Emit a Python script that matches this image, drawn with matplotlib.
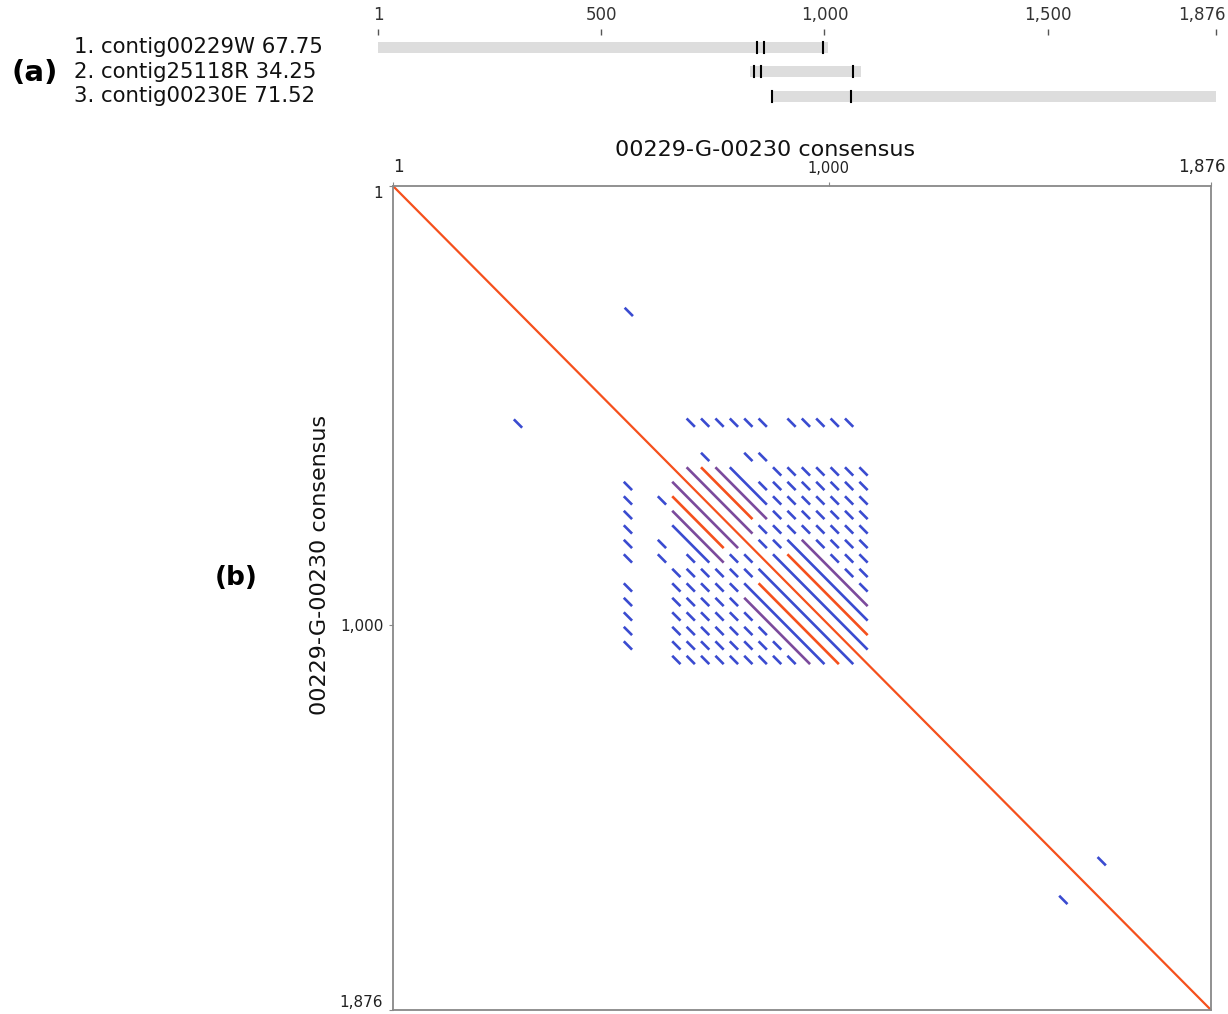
import matplotlib.pyplot as plt
from matplotlib.transforms import ScaledTranslation

# ---- panel (a): contig layout ----
contig_labels = ["1. contig00229W 67.75", "2. contig25118R 34.25", "3. contig00230E 71.52"]
contig_start = [1, 833, 880]
contig_end = [1008, 1081, 1876]
contig_marks = [[849, 864, 996], [842, 858, 1064], [882, 1059]]
top_ticks = [1, 500, 1000, 1500, 1876]
top_tick_labels = ["1", "500", "1,000", "1,500", "1,876"]

# ---- panel (b): self dot plot of the consensus ----
seq_len = 1876
plot_title = "00229-G-00230 consensus"
b_ticks = [1, 1000, 1876]
b_tick_labels = ["1", "1,000", "1,876"]

# repeat unit starts inside the tandem-repeat block
unit_starts = [608, 641, 674, 707, 740, 773, 806, 839, 872, 905, 938, 971, 1004, 1037, 1070]
dash_len = 19
# outlying copy that matches some of the block units
outer_start = 530
outer_hits = [2, 3, 4, 5, 6, 7, 9, 10, 11, 12, 13]
# isolated short hits (x, y) - mirrored
iso_x = [532, 1528]
iso_y = [278, 1616]
# long runs in the upper triangle: (offset in units, first row, last row, colour key)
long_runs = [(1, 1, 5, "p"), (2, 1, 4, "r"), (3, 1, 4, "p"), (4, 1, 3, "b"),
             (1, 7, 13, "b"), (2, 7, 12, "r"), (3, 6, 11, "b"), (4, 6, 10, "p")]
# first block row only hits a few units
row0_hits = [3, 6, 7]
# other upper-triangle cells with no hit (row, col)
empty_cells = [(1, 6), (1, 7)]

colors = {"b": "#3a4bd0", "p": "#7b4a9c", "r": "#f5501c"}
main_red = "#f5501c"

fig = plt.figure(figsize=(12.28, 10.14), dpi=100)

ax_a = fig.add_axes([378 / 1228, 1 - 108.5 / 1014, 838 / 1228, 73.5 / 1014])
for i in range(len(contig_labels)):
    ax_a.barh(i + 0.5, contig_end[i] - contig_start[i], left=contig_start[i],
              height=0.45, color="#dddddd")
    for m in contig_marks[i]:
        ax_a.plot([m, m], [i + 0.27, i + 0.73], color="black", lw=1.5)
ax_a.set_xlim(1, seq_len)
ax_a.set_ylim(3, 0)
for s in ax_a.spines.values():
    s.set_visible(False)
ax_a.set_yticks([])
ax_a.xaxis.tick_top()
ax_a.set_xticks(top_ticks)
ax_a.set_xticklabels(top_tick_labels, fontsize=12, color="#333333")
ax_a.tick_params(axis="x", length=4, width=1, color="#555555", pad=4)
last = ax_a.get_xticklabels()[-1]
last.set_ha("right")
last.set_transform(last.get_transform() + ScaledTranslation(0.1, 0, fig.dpi_scale_trans))

fig.text(58 / 1228, 1 - 73 / 1014, "(a)", fontsize=21, fontweight="bold",
         ha="right", va="center")
for i, lab in enumerate(contig_labels):
    fig.text(74 / 1228, 1 - (47 + 24.5 * i) / 1014, lab, fontsize=15.3,
             ha="left", va="center", color="#111111")

# panel b
ax_b = fig.add_axes([393 / 1228, 1 - 1010 / 1014, 818 / 1228, 824 / 1014])
ax_b.set_xlim(1, seq_len)
ax_b.set_ylim(seq_len, 1)


def seg(x0, y0, n, c, lw=1.9):
    ax_b.plot([x0, x0 + n], [y0, y0 + n], color=c, lw=lw, solid_capstyle="butt")
    ax_b.plot([y0, y0 + n], [x0, x0 + n], color=c, lw=lw, solid_capstyle="butt")


nu = len(unit_starts)
covered = set(empty_cells)
covered.update((0, col) for col in range(1, nu) if col not in row0_hits)
for d, a, b, c in long_runs:
    for r in range(a, b + 1):
        covered.add((r, r + d))
for r in range(nu):
    for col in range(r + 1, nu):
        if (r, col) not in covered:
            seg(unit_starts[col], unit_starts[r], dash_len, colors["b"])
for d, a, b, c in long_runs:
    x0 = unit_starts[a + d]
    y0 = unit_starts[a]
    n = unit_starts[b] + dash_len - y0
    seg(x0, y0, n, colors[c])

for k in outer_hits:
    seg(unit_starts[k], outer_start, dash_len, colors["b"])
for x, y in zip(iso_x, iso_y):
    seg(x, y, dash_len, colors["b"])

ax_b.plot([1, seq_len], [1, seq_len], color=main_red, lw=1.6)

for s in ax_b.spines.values():
    s.set_color("#888888")
    s.set_linewidth(1.3)
ax_b.xaxis.tick_top()
ax_b.set_xticks(b_ticks)
ax_b.set_xticklabels(b_tick_labels, fontsize=11, color="#222222")
ax_b.set_yticks(b_ticks)
ax_b.set_yticklabels(b_tick_labels, fontsize=11, color="#222222")
ax_b.tick_params(length=3, color="#888888", pad=4)
ylabs = ax_b.get_yticklabels()
ylabs[0].set_va("top")
ylabs[-1].set_va("bottom")
xlabs = ax_b.get_xticklabels()
xlabs[0].set_ha("left")
xlabs[0].set_fontsize(12)
xlabs[1].set_fontsize(10.5)
xlabs[-1].set_fontsize(12)
xlabs[-1].set_ha("right")
xlabs[-1].set_transform(xlabs[-1].get_transform() + ScaledTranslation(0.15, 0, fig.dpi_scale_trans))

fig.text(765 / 1228, 1 - 150 / 1014, plot_title, fontsize=16, ha="center",
         va="center", color="#111111")
fig.text(320 / 1228, 1 - 565 / 1014, plot_title, fontsize=16, ha="center",
         va="center", rotation=90, color="#111111")

fig.text(258 / 1228, 1 - 578 / 1014, "(b)", fontsize=19, fontweight="bold",
         ha="right", va="center")

fig.savefig("out.png", dpi=100)
